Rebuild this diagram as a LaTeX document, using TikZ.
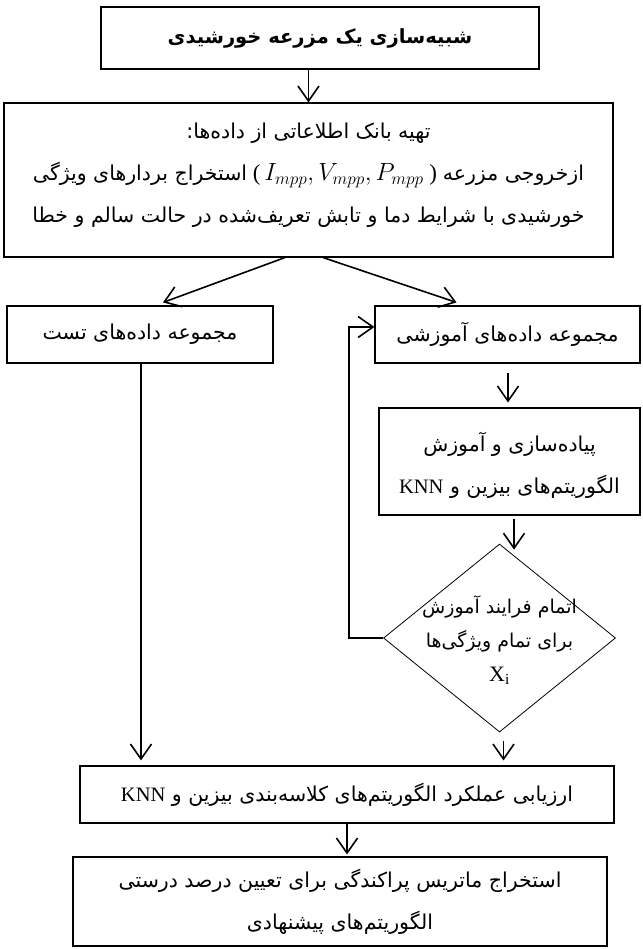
\documentclass[tikz,border=0pt]{standalone}
\usepackage{fontspec}
\setmainfont{Liberation Serif}
\newfontfamily\fa[Script=Arabic]{DejaVu Sans}
\TeXXeTstate=1
\usetikzlibrary{arrows.meta,shapes.geometric,calc}
\newcommand\faR[1]{\beginR #1\endR}
\newcommand\knn{\beginL{\rmfamily KNN}\endL}
\tikzset{
  box/.style={draw, line width=1.1pt, inner sep=0pt, align=center,
    font=\fa\fontsize{20.5}{42}\selectfont},
  txt/.style={inner sep=0pt, align=center, font=\fa\fontsize{20.5}{42}\selectfont},
  arr/.style={line width=1.6pt, -{Straight Barb[length=15pt,width=21pt]}},
}
\begin{document}
\begin{tikzpicture}[x=1pt,y=-1pt]
\useasboundingbox (0,0) rectangle (642,949);
% boxes
\node[box, minimum width=438pt, minimum height=62pt, font=\fa\bfseries\fontsize{19.5}{40}\selectfont] (b1) at (320,38)
  {\faR{شبیه^^^^200cسازی یک مزرعه خورشیدی}};
\node[box, minimum width=609pt, minimum height=154pt] (b2) at (308.5,180) {};
\node[txt] (b2t) at ($(b2.center)+(0,-5)$)
  {\faR{تهیه بانک اطلاعاتی از داده^^^^200cها:}\\
   \faR{استخراج بردارهای ویژگی}{\rmfamily\fontsize{23}{42}\selectfont\ (\,$I_{mpp}, V_{mpp}, P_{mpp}$\ ) }\faR{ازخروجی مزرعه}\\
   \faR{خورشیدی با شرایط دما و تابش تعریف^^^^200cشده در حالت سالم و خطا}};
\node[box, minimum width=266pt, minimum height=57pt] (b3) at (140,334.5)
  {\faR{مجموعه داده^^^^200cهای تست}};
\node[box, minimum width=265pt, minimum height=57pt] (b4) at (507.5,334.5)
  {\faR{مجموعه داده^^^^200cهای آموزشی}};
\node[box, minimum width=261pt, minimum height=107pt] (b5) at (509.5,461.5) {};
\node[txt] (b5t) at ($(b5.center)+(0,4)$)
  {\faR{پیاده^^^^200cسازی و آموزش}\\
   \faR{الگوریتم^^^^200cهای بیزین و \knn}};
\node[diamond, draw, line width=0.8pt, inner sep=0pt, minimum width=232pt, minimum height=188pt] (dia) at (499.5,638) {};
\node[align=center, inner sep=0pt, font=\fa\fontsize{19}{34}\selectfont] (diat) at ($(dia.center)+(0,2)$)
  {\faR{اتمام فرایند آموزش}\\
   \faR{برای تمام ویژگی^^^^200cها}\\
   {\rmfamily\fontsize{22}{34}\selectfont X\textsubscript{i}}};
\node[box, minimum width=534pt, minimum height=57pt] (b6) at (347,794.5)
  {\faR{ارزیابی عملکرد الگوریتم^^^^200cهای کلاسه^^^^200cبندی بیزین و \knn}};
\node[box, minimum width=534pt, minimum height=89pt] (b7) at (340,901.5)
  {\faR{استخراج ماتریس پراکندگی برای تعیین درصد درستی}\\
   \faR{الگوریتم^^^^200cهای پیشنهادی}};
% connectors
\draw[arr] (b1.south -| b2.north) -- (b2.north);
\draw[arr] ($(b2.south)+(-23.5,0)$) -- ($(b3.north)+(23,-3)$);
\draw[arr] ($(b2.south)+(14.5,0)$) -- ($(b4.north)+(-51,-3)$);
\draw[arr] ($(b3.south)+(1,0)$) -- ($(b3.south |- b6.north)+(1,-5)$);
\draw[arr] ($(b4.south)+(0.5,9)$) -- ($(b4.south |- b5.north)+(0.5,-5)$);
\draw[arr] ($(b5.south)+(4.5,3)$) -- ($(b5.south |- dia.north)+(4.5,6)$);
\draw[arr] ($(dia.south)+(4,9)$) -- ($(dia.south |- b6.north)+(4,-5)$);
\draw[arr] (b6.south) -- ($(b6.south |- b7.north)+(0,-2)$);
\draw[arr] (dia.west) -- ++(-34,0) |- ($(b4.west)+(0,-7.5)$);
\end{tikzpicture}
\end{document}
